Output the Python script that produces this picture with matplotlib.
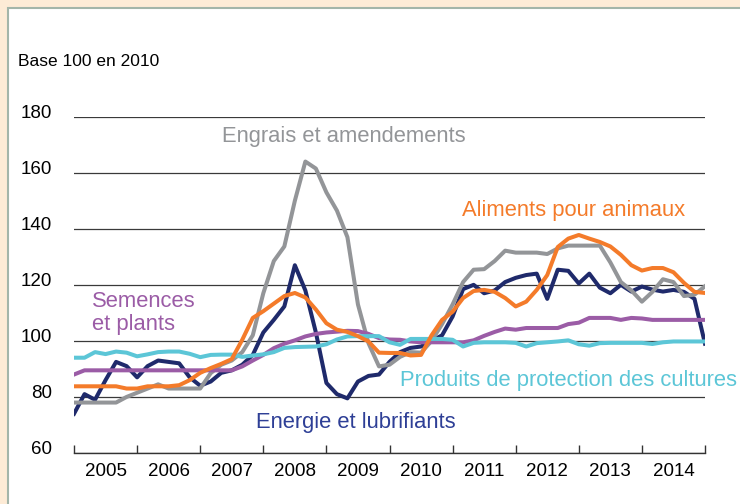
"""Indices de prix des moyens de production agricole, base 100 en 2010."""

import matplotlib

matplotlib.use("Agg")

import matplotlib.pyplot as plt
import numpy as np
from matplotlib.patches import Rectangle
from matplotlib.transforms import ScaledTranslation

plt.rcParams["font.family"] = ["Liberation Sans", "DejaVu Sans"]

# One value every two months, from January 2005 to the end of 2014.
months = np.arange(61)
dates = 2005 + months / 6

engrais = [
    78, 78, 78, 78, 78, 80, 81.5, 83, 84.5, 83, 83, 83, 83, 88.5, 91.5, 93,
    96, 102, 117, 128.5, 133.7, 150, 164, 161.5, 153, 146.5, 137, 113,
    99.2, 90.9, 91.5, 94.3, 96, 95.8, 100, 106, 113, 121, 125.4, 125.6,
    128.5, 132.2, 131.5, 131.5, 131.5, 131, 133, 134, 134, 134, 134, 128,
    121, 118, 114, 117.5, 122, 121, 116, 116.5, 119.5,
]
energie = [
    74, 81, 79, 86, 92.5, 91, 87, 91, 93, 92.5, 92, 87, 84, 85.5, 88.6,
    89.5, 91.5, 95, 103, 107.5, 112.3, 127, 118, 103, 85, 81, 79.5, 85.5,
    87.5, 88, 92.5, 96, 97.5, 98, 100, 102, 108.7, 118.5, 120, 117, 118,
    121, 122.5, 123.5, 124, 115, 125.4, 125, 120.5, 124, 119, 117, 120,
    117.6, 119.4, 118.3, 117.6, 118.2, 117.5, 115, 99,
]
aliments = [
    83.8, 83.8, 83.8, 83.8, 83.8, 83, 83, 83.8, 83.8, 83.8, 84.2, 86, 88.6,
    90.3, 91.8, 93.5, 100.4, 108.2, 110.6, 113.3, 116, 117.1, 115.5, 111.2,
    106.3, 104, 103.2, 101.7, 99.8, 95.8, 95.7, 95.7, 94.8, 95, 102, 107.5,
    110.4, 115.3, 117.8, 118.2, 117.5, 115.3, 112.3, 114, 118.2, 123.5,
    133.5, 136.5, 137.8, 136.5, 135.3, 133.7, 130.7, 127, 125.1, 126, 126,
    124.5, 120.7, 117.5, 117.1,
]
semences = [
    88, 89.5, 89.5, 89.5, 89.5, 89.5, 89.5, 89.5, 89.5, 89.5, 89.5, 89.5,
    89.5, 89.5, 89.5, 89.5, 90.9, 93, 95, 97.4, 99, 100.2, 101.6, 102.5, 103,
    103.3, 103.6, 103.5, 102.5, 101, 100.5, 100.4, 99.8, 99.5, 99.5, 99.5,
    99.5, 99.5, 100.2, 101.8, 103.2, 104.4, 104, 104.6, 104.6, 104.6, 104.6,
    106, 106.5, 108.2, 108.2, 108.2, 107.5, 108.2, 108, 107.5, 107.5, 107.5,
    107.5, 107.5, 107.5,
]
protection = [
    94, 94, 96, 95.3, 96.2, 95.8, 94.5, 95.2, 96, 96.2, 96.2, 95.4, 94.2,
    95, 95.1, 95.1, 94.3, 94.8, 95.2, 96, 97.5, 97.8, 97.9, 98, 98.8, 100.5,
    101.6, 101.7, 101.7, 101.7, 99.5, 98.6, 100.7, 100.7, 100.7, 100.7,
    100.4, 98, 99.3, 99.5, 99.5, 99.5, 99.3, 98, 99.2, 99.5, 99.8, 100.2,
    98.8, 98.3, 99.2, 99.3, 99.3, 99.3, 99.3, 98.9, 99.5, 99.8, 99.8, 99.8,
    99.8,
]

years = list(range(2005, 2015))
y_ticks = [60, 80, 100, 120, 140, 160, 180]

NAVY = "#1f2a6b"
GREY = "#939598"
ORANGE = "#f47b2a"
PURPLE = "#9b5ca6"
CYAN = "#5cc6d7"

fig = plt.figure(figsize=(7.4, 5.04), dpi=100)
fig.patch.set_facecolor("#fdebd6")
panel = Rectangle(
    (7.5 / 740, -0.01), 1, 1.01 - 7.5 / 504,
    transform=fig.transFigure, facecolor="white",
    edgecolor="#a3b5a9", linewidth=1.5,
)
panel.set_zorder(-10)
fig.patches.append(panel)
fig.text(18 / 740, 1 - 61 / 504, "Base 100 en 2010", fontsize=12.5,
         ha="left", va="center")

ax = fig.add_axes([74 / 740, 1 - 453 / 504, 631 / 740, 336.3 / 504])
ax.set_facecolor("none")
ax.set_zorder(1)

line_width = 2.9
ax.plot(dates, energie, color=NAVY, lw=line_width, zorder=3)
ax.plot(dates, engrais, color=GREY, lw=line_width, zorder=4)
ax.plot(dates, semences, color=PURPLE, lw=line_width, zorder=5)
ax.plot(dates, protection, color=CYAN, lw=line_width, zorder=6)
ax.plot(dates, aliments, color=ORANGE, lw=line_width, zorder=7)

ax.set_xlim(2005, 2015)
ax.set_ylim(60, 180)

ax.set_xticks(range(2005, 2016))
ax.set_xticklabels([])
ax.set_xticks([y + 0.5 for y in years], minor=True)
ax.set_xticklabels([str(y) for y in years], minor=True)
ax.tick_params(axis="x", which="major", direction="in", length=6,
               width=1, color="#333333")
ax.tick_params(axis="x", which="minor", length=0, pad=7, labelsize=13.5)

ax.set_yticks(y_ticks)
ax.tick_params(axis="y", length=0, pad=16, labelsize=13.5)
for tick in ax.yaxis.get_major_ticks():
    tick.label1.set_transform(
        tick.label1.get_transform()
        + ScaledTranslation(0, 5 / 100, fig.dpi_scale_trans)
    )

ax.yaxis.grid(True, color="#3a3a3a", linewidth=0.9)
ax.set_axisbelow(True)
for side in ("left", "right", "top"):
    ax.spines[side].set_visible(False)
ax.spines["bottom"].set_color("#333333")
ax.spines["bottom"].set_linewidth(1)

label_size = 15.8
ax.text(2009.28, 173.1, "Engrais et amendements", color=GREY,
        fontsize=label_size, ha="center", va="center")
ax.text(2012.92, 146.7, "Aliments pour animaux", color=ORANGE,
        fontsize=label_size, ha="center", va="center")
ax.text(2005.29, 110, "Semences\net plants", color=PURPLE,
        fontsize=label_size, ha="left", va="center", linespacing=1.1)
ax.text(2010.17, 85.8, "Produits de protection des cultures", color=CYAN,
        fontsize=label_size, ha="left", va="center")
ax.text(2009.47, 70.8, "Energie et lubrifiants", color="#2e3f96",
        fontsize=label_size, ha="center", va="center")

fig.savefig("out.png", dpi=100, facecolor=fig.get_facecolor())
